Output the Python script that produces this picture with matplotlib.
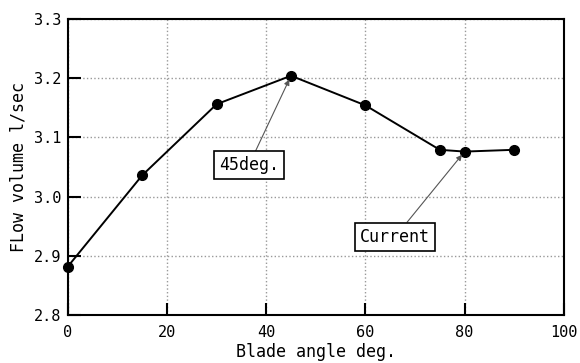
import numpy as np
import matplotlib.pyplot as plt

# blade angle vs flow volume
angle = [0, 15, 30, 45, 60, 75, 80, 90]
flow = [2.882, 3.036, 3.156, 3.204, 3.154, 3.079, 3.076, 3.079]

xticks = [0, 20, 40, 60, 80, 100]
yticks = [2.8, 2.9, 3.0, 3.1, 3.2, 3.3]

plt.rcParams['font.family'] = ['DejaVu Sans Mono']

fig = plt.figure(figsize=(5.8, 3.63), dpi=100)
ax = fig.add_axes([0.117, 0.132, 0.855, 0.816])

ax.plot(angle, flow, color='black', lw=1.4, marker='o', ms=7, zorder=3, clip_on=False)

ax.set_xlim(0, 100)
ax.set_ylim(2.8, 3.3)
ax.set_xticks(xticks)
ax.set_yticks(yticks)
ax.set_yticklabels(['%.1f' % v for v in yticks])
ax.tick_params(direction='in', length=9, width=1.5, labelsize=11, colors='black')
ax.tick_params(axis='x', pad=7)
ax.tick_params(axis='y', pad=5)
ax.grid(True, color='#999999', linestyle=':', linewidth=1)
for s in ax.spines.values():
    s.set_linewidth(1.5)

ax.set_xlabel('Blade angle deg.', fontsize=12, labelpad=2)
ax.set_ylabel('FLow volume l/sec', fontsize=12, labelpad=4)

box = dict(boxstyle='square,pad=0.3', fc='white', ec='black', lw=1.2)
arr = dict(arrowstyle='-|>', color='#555555', lw=0.8, mutation_scale=8, shrinkA=0, shrinkB=3)
ax.annotate('45deg.', xy=(angle[3], flow[3]), xytext=(36.5, 3.053), fontsize=12,
            ha='center', va='center', bbox=box, arrowprops=arr)
ax.annotate('Current', xy=(angle[6], flow[6]), xytext=(66, 2.932), fontsize=12,
            ha='center', va='center', bbox=box, arrowprops=arr)

plt.savefig('out.png', dpi=100)
